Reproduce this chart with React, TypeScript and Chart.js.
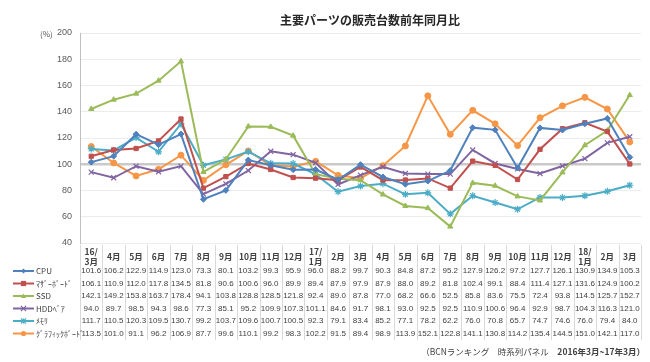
import React, { useEffect, useRef } from "react";
import { Chart, registerables } from "chart.js";

Chart.register(...registerables);

const categories: string[][] = [
  ["16/", "3月"], ["4月"], ["5月"], ["6月"], ["7月"], ["8月"], ["9月"], ["10月"], ["11月"], ["12月"],
  ["17/", "1月"], ["2月"], ["3月"], ["4月"], ["5月"], ["6月"], ["7月"], ["8月"], ["9月"], ["10月"], ["11月"], ["12月"],
  ["18/", "1月"], ["2月"], ["3月"],
];

const seriesNames = ["CPU", "ﾏｻﾞｰﾎﾞｰﾄﾞ", "SSD", "HDDﾍﾞｱ", "ﾒﾓﾘ", "ｸﾞﾗﾌｨｯｸﾎﾞｰﾄﾞ"];

const cpu = [101.6, 106.2, 122.9, 114.9, 123.0, 73.3, 80.1, 103.2, 99.3, 95.9, 96.0, 88.2, 99.7, 90.3, 84.8, 87.2, 95.2, 127.9, 126.2, 97.2, 127.7, 126.1, 130.9, 134.9, 105.3];
const motherboard = [106.1, 110.9, 112.0, 117.8, 134.5, 81.8, 90.6, 100.6, 96.0, 89.9, 89.4, 87.9, 97.9, 87.9, 88.0, 89.2, 81.8, 102.4, 99.1, 88.4, 111.4, 127.1, 131.6, 124.9, 100.2];
const ssd = [142.1, 149.2, 153.8, 163.7, 178.4, 94.1, 103.8, 128.8, 128.5, 121.8, 92.4, 89.0, 87.8, 77.0, 68.2, 66.6, 52.5, 85.8, 83.6, 75.5, 72.4, 93.8, 114.5, 125.7, 152.7];
const hdd = [94.0, 89.7, 98.5, 94.3, 98.6, 77.3, 85.1, 95.2, 109.9, 107.3, 101.1, 84.6, 91.7, 98.1, 93.0, 92.5, 92.5, 110.9, 100.6, 96.4, 92.9, 98.7, 104.3, 116.3, 121.0];
const memory = [111.7, 110.5, 120.3, 109.5, 130.7, 99.2, 103.7, 109.6, 100.7, 100.5, 92.3, 79.1, 83.4, 85.2, 77.1, 78.2, 62.2, 76.0, 70.8, 65.7, 74.7, 74.6, 76.0, 79.4, 84.0];
const graphics = [113.5, 101.0, 91.1, 96.2, 106.9, 87.7, 99.6, 110.1, 99.2, 98.3, 102.2, 91.5, 89.4, 98.9, 113.9, 152.1, 122.8, 141.1, 130.8, 114.2, 135.4, 144.5, 151.0, 142.1, 117.0];

const seriesValues = [cpu, motherboard, ssd, hdd, memory, graphics];

const colors = ["#4F81BD", "#C0504D", "#9BBB59", "#8064A2", "#4BACC6", "#F79646"];
const markers = ["rectRot", "rect", "triangle", "crossRot", "star", "circle"];

const titleText = "主要パーツの販売台数前年同月比";
const unitText = "(%)";
const footerText = "（BCNランキング　時系列パネル　";
const footerBold = "2016年3月~17年3月）";

const yMin = 40;
const yMax = 200;
const yStep = 20;

const JP = '"Noto Sans CJK JP", "Liberation Sans", sans-serif';
const NUM = '"Liberation Sans", "Noto Sans CJK JP", sans-serif';

function drawMarker(ctx: CanvasRenderingContext2D, style: string, x: number, y: number, r: number, color: string) {
  ctx.save();
  ctx.fillStyle = color;
  ctx.strokeStyle = color;
  ctx.lineWidth = 1.2;
  ctx.beginPath();
  if (style === "rectRot") {
    ctx.moveTo(x, y - r); ctx.lineTo(x + r, y); ctx.lineTo(x, y + r); ctx.lineTo(x - r, y); ctx.closePath(); ctx.fill();
  } else if (style === "rect") {
    ctx.rect(x - r, y - r, 2 * r, 2 * r); ctx.fill();
  } else if (style === "triangle") {
    ctx.moveTo(x, y - r); ctx.lineTo(x + r, y + r * 0.8); ctx.lineTo(x - r, y + r * 0.8); ctx.closePath(); ctx.fill();
  } else if (style === "crossRot") {
    ctx.moveTo(x - r, y - r); ctx.lineTo(x + r, y + r); ctx.moveTo(x + r, y - r); ctx.lineTo(x - r, y + r); ctx.stroke();
  } else if (style === "star") {
    ctx.moveTo(x - r, y - r); ctx.lineTo(x + r, y + r); ctx.moveTo(x + r, y - r); ctx.lineTo(x - r, y + r);
    ctx.moveTo(x, y - r); ctx.lineTo(x, y + r); ctx.stroke();
  } else {
    ctx.arc(x, y, r, 0, Math.PI * 2); ctx.fill();
  }
  ctx.restore();
}

const tablePlugin = {
  id: "tablePlugin",
  afterDraw(chart: any) {
    const ctx: CanvasRenderingContext2D = chart.ctx;
    const xs = chart.scales.x;
    const area = chart.chartArea;
    const band = (area.right - area.left) / categories.length;

    ctx.save();
    // title
    ctx.fillStyle = "#262626";
    ctx.font = `bold 12px ${JP}`;
    ctx.textAlign = "center";
    ctx.textBaseline = "middle";
    ctx.fillText(titleText, 370, 20);

    // unit
    ctx.fillStyle = "#595959";
    ctx.font = `8px ${JP}`;
    ctx.textAlign = "left";
    ctx.fillText(unitText, 40, area.top + 1);

    // table vertical lines
    const tTop = area.bottom + 2;
    const tBottom = 340;
    ctx.strokeStyle = "#d9d9d9";
    ctx.lineWidth = 1;
    ctx.beginPath();
    for (let i = 0; i <= categories.length; i++) {
      const lx = Math.round(area.left + i * band) + 0.5;
      ctx.moveTo(lx, tTop);
      ctx.lineTo(lx, tBottom);
    }
    ctx.stroke();

    // header
    ctx.fillStyle = "#404040";
    ctx.font = `bold 8.5px ${JP}`;
    ctx.textAlign = "center";
    categories.forEach((lab, i) => {
      const cx = xs.getPixelForValue(i);
      if (lab.length === 2) {
        ctx.fillText(lab[0], cx, 252);
        ctx.fillText(lab[1], cx, 262);
      } else {
        ctx.fillText(lab[0], cx, 257);
      }
    });

    // rows
    const rowY = [271, 283.5, 296, 308.5, 321, 333.5];
    seriesValues.forEach((vals, s) => {
      const y = rowY[s];
      // legend
      ctx.strokeStyle = colors[s];
      ctx.lineWidth = 2;
      ctx.beginPath();
      ctx.moveTo(13, y);
      ctx.lineTo(34, y);
      ctx.stroke();
      drawMarker(ctx, markers[s], 23.5, y, 2.6, colors[s]);
      ctx.fillStyle = "#404040";
      ctx.font = `8px ${JP}`;
      ctx.textAlign = "left";
      ctx.fillText(seriesNames[s], 36, y);
      ctx.font = `8px ${NUM}`;
      ctx.textAlign = "center";
      vals.forEach((v, i) => {
        ctx.fillText(v.toFixed(1), xs.getPixelForValue(i), y);
      });
    });

    // footer
    ctx.fillStyle = "#404040";
    ctx.textAlign = "right";
    ctx.font = `bold 8.5px ${JP}`;
    const bw = ctx.measureText(footerBold).width;
    ctx.fillText(footerBold, 645, 352);
    ctx.font = `8.5px ${JP}`;
    ctx.fillText(footerText, 645 - bw, 352);
    ctx.restore();
  },
};

export default function App() {
  const ref = useRef<HTMLCanvasElement | null>(null);
  useEffect(() => {
    document.body.style.margin = "0";
    if (!ref.current) return;
    const chart = new Chart(ref.current, {
      type: "line",
      data: {
        labels: categories.map((c) => c.join("")),
        datasets: seriesValues.map((vals, s) => ({
          label: seriesNames[s],
          data: vals,
          borderColor: colors[s],
          backgroundColor: colors[s],
          borderWidth: 2,
          pointStyle: markers[s] as any,
          pointRadius: s === 3 || s === 4 ? 3.5 : 3,
          pointBorderWidth: s === 3 || s === 4 ? 1.2 : 1,
          pointBorderColor: colors[s],
          pointBackgroundColor: colors[s],
          tension: 0,
          fill: false,
        })),
      },
      options: {
        animation: false,
        responsive: false,
        layout: { padding: { left: 0, right: 9, top: 33, bottom: 119 } },
        plugins: { legend: { display: false }, title: { display: false }, tooltip: { enabled: false } },
        scales: {
          x: { display: false, offset: true },
          y: {
            min: yMin,
            max: yMax,
            afterFit: (s: any) => { s.width = 80; },
            border: { display: true, color: "#bfbfbf", width: 1 },
            grid: {
              drawTicks: false,
              color: (c: any) => (c.tick && c.tick.value === 100 ? "#c9c9c9" : "#ececec"),
              lineWidth: (c: any) => (c.tick && c.tick.value === 100 ? 2.5 : 1),
            },
            ticks: {
              stepSize: yStep,
              padding: 8,
              color: "#595959",
              font: { family: NUM, size: 9 },
            },
          },
        },
      },
      plugins: [tablePlugin],
    });
    return () => chart.destroy();
  }, []);
  return (
    <div style={{ position: "absolute", left: 0, top: 0, width: 650, height: 362, background: "#fff" }}>
      <canvas ref={ref} width={650} height={362} style={{ width: 650, height: 362 }} />
    </div>
  );
}
